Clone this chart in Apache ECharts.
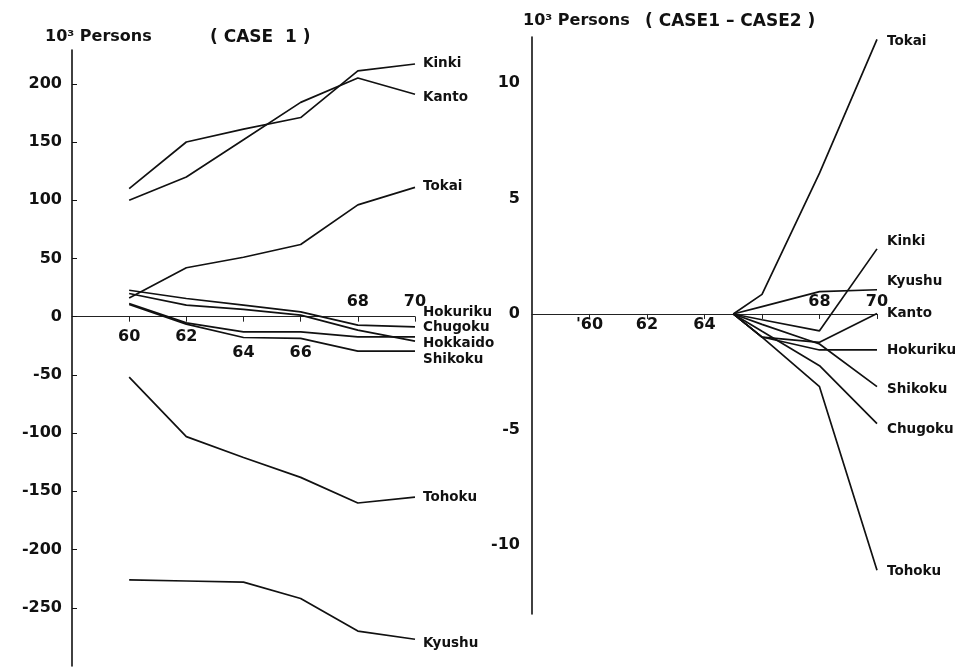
<!DOCTYPE html>
<html><head><meta charset="utf-8">
<script src="https://cdn.jsdelivr.net/npm/echarts@6/dist/echarts.min.js"></script>
<style>html,body{margin:0;padding:0;background:#fff}#c{width:969px;height:670px}</style>
</head><body><div id="c"></div>
<script>
// ---- Left panel (CASE 1), 10^3 persons ----
const years1 = [60, 62, 64, 66, 68, 70];
const kinki1    = [110, 150, 161, 171, 211, 217];
const kanto1    = [100, 120, 152, 184, 205, 191];
const tokai1    = [16, 42, 51, 62, 96, 111];
const hokuriku1 = [22.7, 15.6, 9.9, 4.1, -7.3, -8.7];
const chugoku1  = [11.3, -5.3, -13, -13, -17.3, -17.3];
const hokkaido1 = [19.9, 9.9, 6.2, 1.3, -11.6, -21];
const shikoku1  = [10.5, -6.4, -17.9, -18.7, -29.6, -29.6];
const tohoku1   = [-52, -103, -121, -138, -160, -155];
const kyushu1   = [-226, -227, -228, -242, -270, -277];

// ---- Right panel (CASE1 - CASE2), 10^3 persons ----
const years2 = [65, 66, 68, 70];
const tokai2    = [0, 0.85, 6.1, 11.9];
const kinki2    = [0, -0.25, -0.73, 2.82];
const kyushu2   = [0, 0.32, 0.97, 1.05];
const kanto2    = [0, -1.0, -1.23, 0.02];
const hokuriku2 = [0, -1.0, -1.56, -1.56];
const shikoku2  = [0, -0.45, -1.3, -3.15];
const chugoku2  = [0, -0.75, -2.24, -4.75];
const tohoku2   = [0, -1.0, -3.15, -11.1];

// ---- Tick labels ----
const leftYTicks = [-250, -200, -150, -100, -50, 0, 50, 100, 150, 200];
const rightYTicks = [-10, -5, 0, 5, 10];
const leftXTicks = [60, 62, 64, 66, 68, 70];
const leftXLabels = ['60', '62', '64', '66', '68', '70'];
const rightXTicks = [60, 62, 64, 66, 68, 70];
const rightXLabelValues = [60, 62, 64, 68, 70];
const rightXLabels = ["'60", '62', '64', '68', '70'];

// label placement style (row relative to axis line)
const leftXRow = {60: 'b', 62: 'b', 64: 'd', 66: 'd', 68: 'u', 70: 'u'};
const rightXRow = {60: 'b', 62: 'b', 64: 'b', 68: 'u', 70: 'u'};

const FONT = 'DejaVu Sans';
const txt = {color: '#111', fontFamily: FONT, fontWeight: 'bold'};

// layout
const G1 = {left: 72, width: 343, top: 50, height: 616};
const G2 = {left: 532, width: 345, top: 37, height: 577};
const Y1 = {min: -300, max: 229};
const Y2 = {min: -13, max: 12};
// shift x axis up from the grid bottom to the value 0 of the y scale
const off1 = -G1.height * (0 - Y1.min) / (Y1.max - Y1.min);
const off2 = -G2.height * (0 - Y2.min) / (Y2.max - Y2.min);

const chart = echarts.init(document.getElementById('c'), null, {renderer: 'canvas'});

function pairs(xs, ys) { return xs.map((x, i) => [x, ys[i]]); }

function mkSeries(name, xs, ys, idx, dy, dist) {
  return {
    type: 'line', name: name, xAxisIndex: idx, yAxisIndex: idx,
    data: pairs(xs, ys), symbol: 'none', silent: true,
    lineStyle: {color: '#111', width: 1.7},
    endLabel: {show: true, formatter: '{a}', offset: [0, dy], distance: dist,
      color: '#111', fontFamily: FONT, fontWeight: 'bold', fontSize: 13.5}
  };
}

const option = {
  animation: false,
  backgroundColor: '#fff',
  title: [
    {text: '10³ Persons', left: 40, top: 24, textStyle: Object.assign({fontSize: 16}, txt)},
    {text: '( CASE  1 )', left: 205, top: 24, textStyle: Object.assign({fontSize: 17}, txt)},
    {text: '10³ Persons', left: 518, top: 8, textStyle: Object.assign({fontSize: 16}, txt)},
    {text: '( CASE1 – CASE2 )', left: 640, top: 8, textStyle: Object.assign({fontSize: 17}, txt)}
  ],
  grid: [
    Object.assign({outerBoundsMode: 'none', containLabel: false}, G1),
    Object.assign({outerBoundsMode: 'none', containLabel: false}, G2)
  ],
  xAxis: [
    {
      gridIndex: 0, type: 'value', min: 58, max: 70, position: 'bottom', offset: off1,
      axisLine: {onZero: false, lineStyle: {color: '#222', width: 1.2}},
      splitLine: {show: false},
      axisTick: {customValues: leftXTicks, length: 5, lineStyle: {color: '#222'}},
      axisLabel: {
        customValues: leftXTicks, margin: 0, verticalAlign: 'middle',
        formatter: v => {
          const i = leftXTicks.indexOf(v);
          return i < 0 ? '' : '{' + leftXRow[v] + '|' + leftXLabels[i] + '}';
        },
        rich: {
          b: Object.assign({fontSize: 16, padding: [40, 0, 0, 0]}, txt),
          d: Object.assign({fontSize: 16, padding: [72, 0, 0, 0]}, txt),
          u: Object.assign({fontSize: 16, padding: [0, 0, 30, 0]}, txt)
        }
      }
    },
    {
      gridIndex: 1, type: 'value', min: 58, max: 70, position: 'bottom', offset: off2,
      axisLine: {onZero: false, lineStyle: {color: '#222', width: 1.2}},
      splitLine: {show: false},
      axisTick: {customValues: rightXTicks, length: 5, lineStyle: {color: '#222'}},
      axisLabel: {
        customValues: rightXLabelValues, margin: 0, verticalAlign: 'middle',
        formatter: v => {
          const i = rightXLabelValues.indexOf(v);
          return i < 0 ? '' : '{' + rightXRow[v] + '|' + rightXLabels[i] + '}';
        },
        rich: {
          b: Object.assign({fontSize: 16, padding: [22, 0, 0, 0]}, txt),
          u: Object.assign({fontSize: 16, padding: [0, 0, 24, 0]}, txt)
        }
      }
    }
  ],
  yAxis: [
    {
      gridIndex: 0, type: 'value', min: Y1.min, max: Y1.max,
      axisLine: {show: true, onZero: false, lineStyle: {color: '#111', width: 1.6}},
      splitLine: {show: false},
      axisTick: {show: true, inside: true, length: 5, customValues: leftYTicks, lineStyle: {color: '#111'}},
      axisLabel: Object.assign({customValues: leftYTicks, margin: 10, fontSize: 16}, txt)
    },
    {
      gridIndex: 1, type: 'value', min: Y2.min, max: Y2.max,
      axisLine: {show: true, onZero: false, lineStyle: {color: '#111', width: 1.6}},
      splitLine: {show: false},
      axisTick: {show: false},
      axisLabel: Object.assign({customValues: rightYTicks, margin: 12, fontSize: 16}, txt)
    }
  ],
  series: [
    mkSeries('Kinki', years1, kinki1, 0, 0, 8),
    mkSeries('Kanto', years1, kanto1, 0, 3, 8),
    mkSeries('Tokai', years1, tokai1, 0, -1, 8),
    mkSeries('Hokuriku', years1, hokuriku1, 0, -14, 8),
    mkSeries('Chugoku', years1, chugoku1, 0, -9, 8),
    mkSeries('Hokkaido', years1, hokkaido1, 0, 2, 8),
    mkSeries('Shikoku', years1, shikoku1, 0, 8, 8),
    mkSeries('Tohoku', years1, tohoku1, 0, 0, 8),
    mkSeries('Kyushu', years1, kyushu1, 0, 4, 8),
    mkSeries('Tokai', years2, tokai2, 1, 2, 10),
    mkSeries('Kinki', years2, kinki2, 1, -7, 10),
    mkSeries('Kyushu', years2, kyushu2, 1, -8, 10),
    mkSeries('Kanto', years2, kanto2, 1, 0, 10),
    mkSeries('Hokuriku', years2, hokuriku2, 1, 1, 10),
    mkSeries('Shikoku', years2, shikoku2, 1, 3, 10),
    mkSeries('Chugoku', years2, chugoku2, 1, 6, 10),
    mkSeries('Tohoku', years2, tohoku2, 1, 1, 10)
  ]
};
chart.setOption(option);
</script>
</body></html>
